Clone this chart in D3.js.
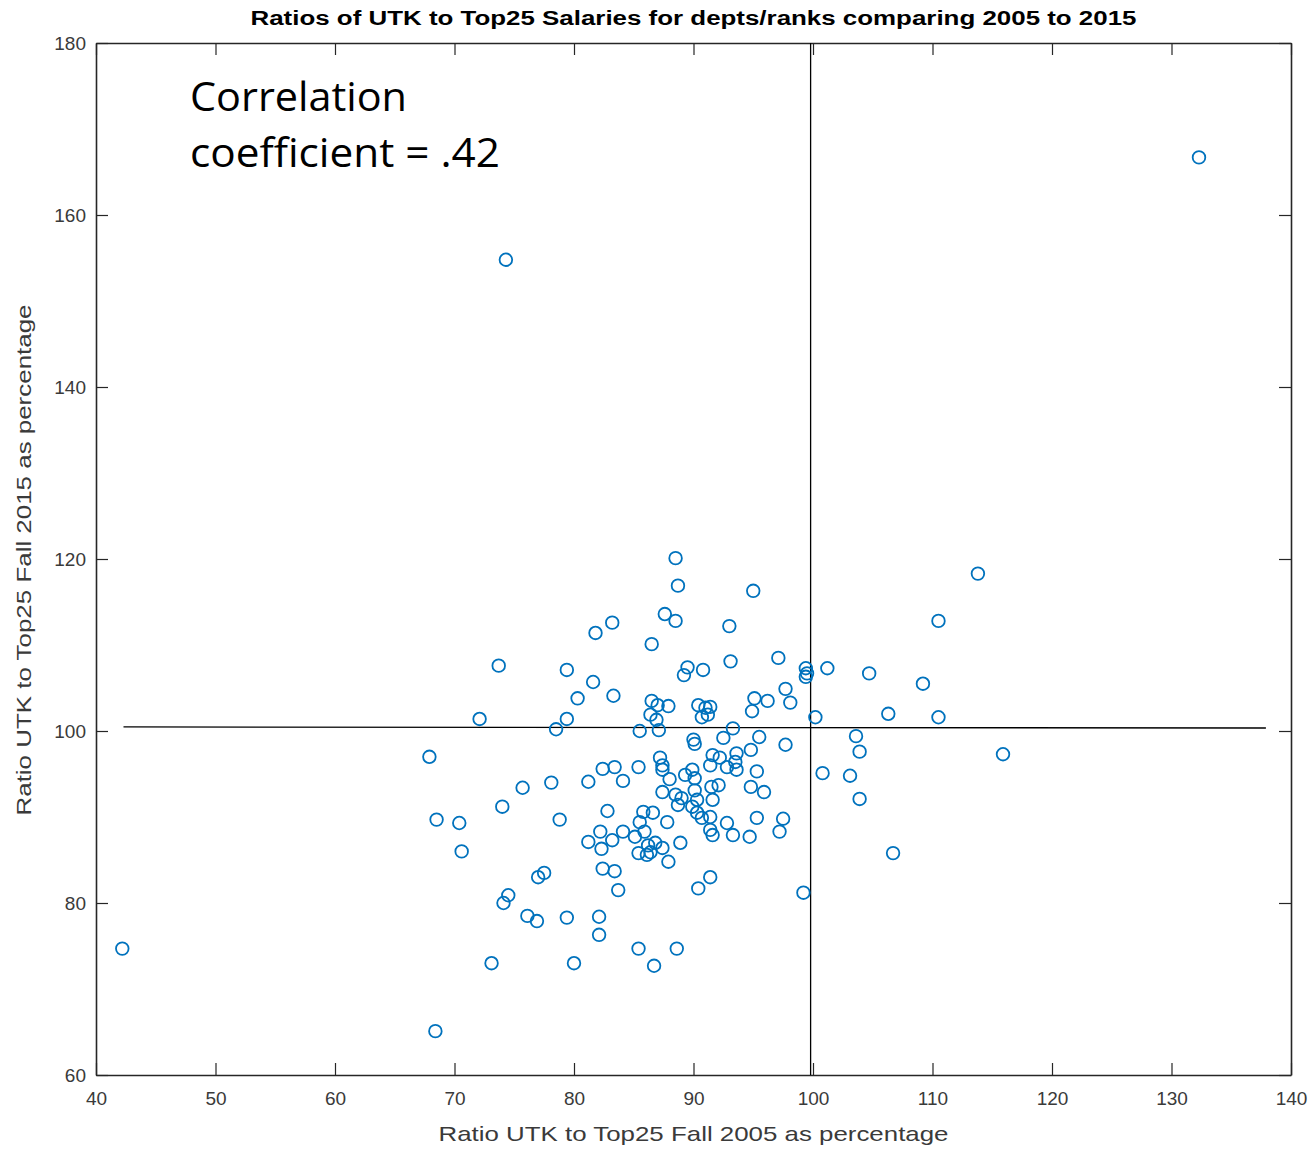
<!DOCTYPE html>
<html>
<head>
<meta charset="utf-8">
<script src="https://cdn.jsdelivr.net/npm/d3@7"></script>
<style>
  body { margin: 0; background: #fff; }
  text { font-family: "Liberation Sans", Arial, sans-serif; }
</style>
</head>
<body>
<div id="graph"></div>
<script>
// ratio UTK / Top25, fall 2005 (x) vs fall 2015 (y)
var ratio2005 = [
  132.3, 74.3, 42.2, 68.4, 88.5, 88.7, 95.0, 87.6, 88.5, 83.2,
  113.8, 110.5, 93.0, 81.8, 86.5, 73.7, 79.4, 89.5, 89.2, 90.8,
  93.1, 97.1, 99.4, 99.5, 99.4, 101.2, 104.7, 81.6, 109.2, 97.7,
  80.3, 83.3, 86.5, 87.0, 87.9, 86.4, 86.9, 90.4, 91.0, 91.4,
  90.7, 91.2, 95.1, 96.2, 98.1, 94.9, 100.2, 106.3, 110.5, 79.4,
  72.1, 78.5, 85.5, 87.1, 93.3, 90.0, 90.1, 92.5, 95.5, 97.7,
  103.6, 103.9, 115.9, 94.8, 67.9, 91.6, 92.2, 91.4, 92.8, 93.5,
  93.6, 93.6, 95.3, 87.2, 87.4, 87.4, 88.0, 89.3, 89.9, 90.1,
  82.4, 83.4, 85.4, 84.1, 81.2, 78.1, 75.7, 100.8, 103.1, 87.4,
  88.5, 89.0, 88.7, 90.1, 90.3, 89.9, 91.5, 92.1, 91.6, 94.8,
  95.9, 103.9, 74.0, 82.8, 85.8, 86.6, 85.5, 87.8, 90.3, 90.7,
  91.4, 92.8, 95.3, 97.5, 78.8, 68.5, 70.4, 91.4, 91.6, 97.2,
  93.3, 94.7, 82.2, 84.1, 85.1, 85.9, 81.2, 83.2, 82.3, 86.2,
  86.8, 87.4, 88.9, 85.4, 86.1, 86.4, 87.9, 82.4, 83.4, 70.6,
  106.7, 77.0, 77.5, 91.4, 90.4, 83.7, 74.1, 74.5, 99.2, 76.1,
  76.9, 79.4, 82.1, 82.1, 85.4, 88.6, 86.7, 73.1, 80.0
]
var ratio2015 = [
  166.7, 154.8, 74.7, 65.1, 120.1, 116.9, 116.3, 113.6, 112.8, 112.6,
  118.3, 112.8, 112.2, 111.4, 110.1, 107.6, 107.1, 107.4, 106.5, 107.1,
  108.1, 108.5, 107.3, 106.7, 106.3, 107.3, 106.7, 105.7, 105.5, 104.9,
  103.8, 104.1, 103.5, 103.0, 102.9, 101.9, 101.3, 103.0, 102.7, 102.8,
  101.6, 101.9, 103.8, 103.5, 103.3, 102.3, 101.6, 102.0, 101.6, 101.4,
  101.4, 100.2, 100.0, 100.1, 100.3, 99.0, 98.5, 99.2, 99.3, 98.4,
  99.4, 97.6, 97.3, 97.8, 97.0, 97.2, 96.9, 96.0, 95.8, 96.4,
  97.4, 95.5, 95.3, 96.9, 96.0, 95.5, 94.4, 94.9, 95.5, 94.5,
  95.6, 95.8, 95.8, 94.2, 94.1, 94.0, 93.4, 95.1, 94.8, 92.9,
  92.6, 92.2, 91.4, 93.1, 92.0, 91.2, 93.5, 93.7, 92.0, 93.5,
  92.9, 92.1, 91.2, 90.7, 90.6, 90.5, 89.4, 89.4, 90.5, 89.9,
  90.0, 89.3, 89.9, 89.8, 89.7, 89.7, 89.3, 88.5, 87.9, 88.3,
  87.9, 87.7, 88.3, 88.3, 87.7, 88.3, 87.1, 87.3, 86.3, 86.7,
  87.0, 86.4, 87.0, 85.8, 85.6, 85.9, 84.8, 84.0, 83.7, 86.0,
  85.8, 83.0, 83.5, 83.0, 81.7, 81.5, 80.0, 80.9, 81.2, 78.5,
  77.9, 78.3, 78.4, 76.3, 74.7, 74.7, 72.7, 73.0, 73.0
]

// reference lines drawn on the figure
var vLine = [[99.8, 60], [99.8, 180]]
var hLine = [[42.3, 100.47], [137.9, 100.35]]

var xTicks = d3.range(40, 141, 10)
var yTicks = d3.range(60, 181, 20)

var title = 'Ratios of UTK to Top25 Salaries for depts/ranks comparing 2005 to 2015'
var xTitle = 'Ratio UTK to Top25 Fall 2005 as percentage'
var yTitle = 'Ratio UTK to Top25 Fall 2015 as percentage'
var note = ['Correlation', 'coefficient = .42']
var noteWidths = [217, 310]

var W = 1316, H = 1149
var margin = {top: 43, right: 25, bottom: 74, left: 96}
var width = W - margin.left - margin.right
var height = H - margin.top - margin.bottom
var axisCol = '#262626'

var svg = d3.select('#graph').append('svg')
  .attr('width', W).attr('height', H)
var g = svg.append('g').attr('transform', `translate(${margin.left},${margin.top})`)

var x = d3.scaleLinear().domain([40, 140]).range([0, width])
var y = d3.scaleLinear().domain([60, 180]).range([height, 0])

// axes on all four sides, ticks pointing in (matlab box style)
function styleAxis(sel){
  sel.select('.domain').attr('stroke', axisCol).attr('stroke-width', 1.6)
  sel.selectAll('.tick line').attr('stroke', axisCol).attr('stroke-width', 1.2)
  sel.selectAll('.tick text').attr('fill', '#3a3a3a')
    .style('font-size', '19px')
    .style('font-family', '"Liberation Sans", Arial, sans-serif')
}

g.append('g').attr('transform', `translate(0,${height})`)
  .call(d3.axisBottom(x).tickValues(xTicks).tickSizeInner(-12).tickSizeOuter(0).tickPadding(17))
  .call(styleAxis)
g.append('g')
  .call(d3.axisTop(x).tickValues(xTicks).tickSizeInner(-12).tickSizeOuter(0).tickFormat(''))
  .call(styleAxis)
g.append('g')
  .call(d3.axisLeft(y).tickValues(yTicks).tickSizeInner(-12).tickSizeOuter(0).tickPadding(10))
  .call(styleAxis)
g.append('g').attr('transform', `translate(${width},0)`)
  .call(d3.axisRight(y).tickValues(yTicks).tickSizeInner(-12).tickSizeOuter(0).tickFormat(''))
  .call(styleAxis)

var line = d3.line().x(d => x(d[0])).y(d => y(d[1]))
g.append('path').attr('d', line(vLine)).attr('stroke', '#000').attr('stroke-width', 1.3).attr('fill', 'none')
g.append('path').attr('d', line(hLine)).attr('stroke', '#000').attr('stroke-width', 1.3).attr('fill', 'none')

var points = ratio2005.map((v, i) => ({x: v, y: ratio2015[i]}))
g.selectAll('circle.pt').data(points).enter().append('circle')
  .attr('class', 'pt')
  .attr('cx', d => x(d.x)).attr('cy', d => y(d.y))
  .attr('r', 6.3)
  .attr('fill', 'none')
  .attr('stroke', '#0072BD')
  .attr('stroke-width', 1.8)

// titles
svg.append('text')
  .attr('x', margin.left + width / 2).attr('y', 25)
  .attr('text-anchor', 'middle')
  .attr('textLength', 886).attr('lengthAdjust', 'spacingAndGlyphs')
  .style('font-size', '20px').style('font-weight', 'bold').attr('fill', '#000')
  .text(title)

svg.append('text')
  .attr('x', margin.left + width / 2).attr('y', 1141)
  .attr('text-anchor', 'middle')
  .attr('textLength', 510).attr('lengthAdjust', 'spacingAndGlyphs')
  .style('font-size', '21px').attr('fill', '#3a3a3a')
  .text(xTitle)

svg.append('text')
  .attr('transform', `translate(31,${margin.top + height / 2 + 1}) rotate(-90)`)
  .attr('text-anchor', 'middle')
  .attr('textLength', 511).attr('lengthAdjust', 'spacingAndGlyphs')
  .style('font-size', '21px').attr('fill', '#3a3a3a')
  .text(yTitle)

// correlation note
svg.selectAll('text.note').data(note).enter().append('text')
  .attr('class', 'note')
  .attr('x', 190).attr('y', (d, i) => 111 + i * 56)
  .attr('textLength', (d, i) => noteWidths[i]).attr('lengthAdjust', 'spacingAndGlyphs')
  .style('font-family', '"Open Sans", "Noto Sans", sans-serif')
  .style('font-size', '41px').attr('fill', '#000')
  .text(d => d)
</script>
</body>
</html>
